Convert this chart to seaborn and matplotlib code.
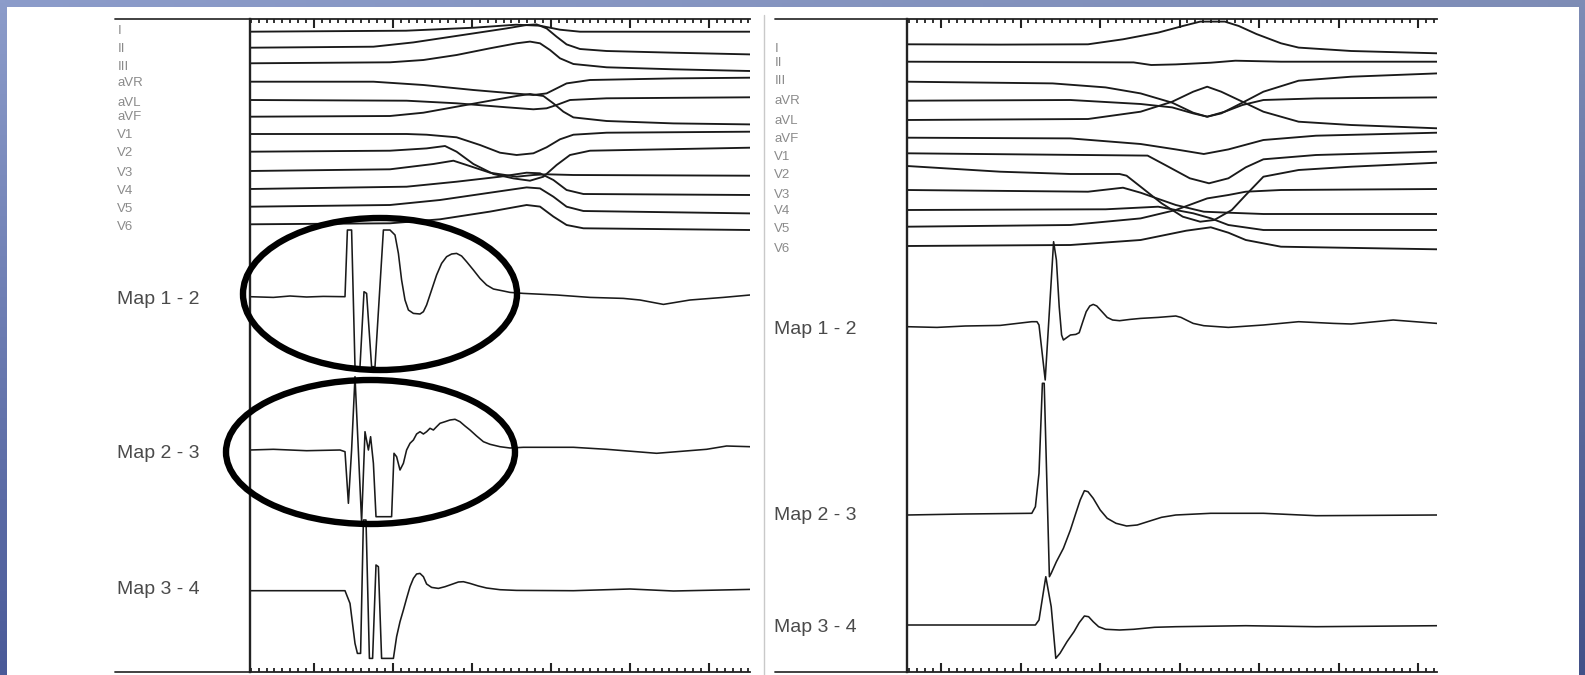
import numpy as np
import pandas as pd
import matplotlib
matplotlib.use("Agg")
import matplotlib.pyplot as plt
from matplotlib.patches import Ellipse, Rectangle
from matplotlib.lines import Line2D
import seaborn as sns

W, H, DPI = 1585, 675, 100

CHANNELS = ["I", "II", "III", "aVR", "aVL", "aVF", "V1", "V2", "V3", "V4", "V5", "V6",
            "Map 1 - 2", "Map 2 - 3", "Map 3 - 4"]

# ---------------- left recording (time in ms, amplitude in display units) ----------------
left_depth = [12.7, 28.7, 44.3, 62.7, 81, 97.7, 115, 132.7, 152, 170, 187.7, 205.3, 277.7, 431, 571.7]
left_label_depth = [11, 29, 46, 63, 82, 97, 115, 133, 153, 170, 188, 206, 279, 432, 569]

L_I_t = [0, 78, 112, 133, 145, 155, 165, 250]
L_I_a = [0, 1, 4, 7, 6, 2, 0, 0]
L_II_t = [0, 61.7, 81.7, 95, 111.7, 128.3, 138.3, 143.3, 148.3, 153.3, 158.3, 165, 178.3, 211.7, 250]
L_II_a = [0, 1, 5.3, 9.3, 14.3, 19.3, 22.7, 23.3, 19.3, 11, 3.3, -1.3, -3.3, -5, -6.7]
L_III_t = [0, 70, 86.7, 103.3, 120, 133.3, 140, 145, 150, 155, 161.7, 178.3, 211.7, 250]
L_III_a = [0, 1, 3.3, 8.3, 15, 20, 21.7, 20, 13.3, 5, -0.7, -4, -6, -7.7]
L_aVR_t = [0, 61.7, 86.7, 111.7, 131.7, 141.7, 148.3, 153.3, 158.3, 170, 211.7, 250]
L_aVR_a = [0, 0, -3.3, -8.3, -11.7, -13.3, -11.7, -6.7, -1.7, 1.7, 3.3, 4]
L_aVL_t = [0, 78.3, 103.3, 128.3, 141.7, 148.3, 153.3, 160, 178.3, 250]
L_aVL_a = [0, -0.7, -3.3, -7.3, -9.3, -8.3, -5, 0, 1.7, 2.7]
L_aVF_t = [0, 70, 86.7, 103.3, 120, 133.3, 140, 146.7, 151.7, 156.7, 161.7, 178.3, 211.7, 250]
L_aVF_a = [0, 0.7, 4, 10, 16, 20.7, 22.7, 20.7, 13.3, 5, -0.7, -4.3, -6.7, -7.7]
L_V1_t = [0, 78.3, 88.3, 103.3, 115, 125, 133.3, 141.7, 148.3, 155, 161.7, 178.3, 250]
L_V1_a = [0, 0, -0.7, -3.3, -11, -18.7, -21, -19.3, -13.3, -5.3, -0.7, 1.3, 2.3]
L_V2_t = [0, 70, 88.3, 97.5, 103.3, 111.7, 121.7, 131.7, 140, 146.7, 153.3, 160, 170, 250]
L_V2_a = [0, 1, 3.3, 5.7, 0, -12.3, -22.3, -26.7, -29, -25, -13.3, -3.3, 1, 4]
L_V3_t = [0, 70, 91.7, 101.7, 108.3, 120, 133.3, 141.7, 148.3, 161.7, 250]
L_V3_a = [0, 1.7, 7, 10.3, 6, -1.7, -5.7, -4, -3.3, -4, -4.7]
L_V4_t = [0, 78.3, 103.3, 125, 138.3, 145, 151.7, 158.3, 166.7, 250]
L_V4_a = [0, 2.3, 7.3, 12.3, 16.3, 15.7, 9, -1, -5, -6]
L_V5_t = [0, 70, 95, 120, 138.3, 145, 151.7, 158.3, 166.7, 250]
L_V5_a = [0, 1.7, 6.7, 14, 19.3, 18.3, 10, 0, -4.3, -6.7]
L_V6_t = [0, 70, 95, 120, 138.3, 145, 151.7, 158.3, 166.7, 250]
L_V6_a = [0, 1, 5, 12.7, 19.3, 17.7, 7.7, -0.7, -4, -5.7]

L_M12_t = [0, 11.7, 20, 28.3, 36.7, 47.5, 48.7, 50.8, 52.5, 55, 57, 58.3, 60.8, 62.5, 66.7,
           70, 72.5, 74.2, 75.8, 77.5, 79.2, 81.7, 85, 86.7, 88.3, 90.8, 93.3, 95.8, 98.3, 100.8,
           103.3, 105.8, 108.3, 111.7, 115, 118.3, 121.7, 126.7, 130, 136.7, 153.3, 170, 186.7,
           195, 206.7, 220, 236.7, 250]
L_M12_a = [0, -0.7, 0.7, -0.3, 0.3, 0, 66.7, 66.7, -70, -70, 5, 3.3, -70, -70, 66.7,
           66.7, 61.7, 43.3, 16.7, -3.3, -13.3, -16.7, -17.3, -15, -8.3, 6.7, 21.7, 33.3, 40, 42.7,
           43.3, 40.7, 35, 26.7, 18.3, 11.7, 7.7, 5.7, 4.3, 3.3, 1.7, -0.7, -1.7,
           -3.3, -7.7, -3.3, -0.7, 1.7]
L_M23_t = [0, 11.7, 28.3, 45, 47.5, 49.2, 50.8, 52.5, 55.8, 57.5, 59.2, 60.3, 61.7, 63, 70.8,
           72, 73.3, 75, 76.7, 78.3, 80, 81.7, 83.3, 85, 86.7, 88.3, 90, 91.7, 93.3, 95,
           97.5, 100, 102.5, 105, 107.5, 110, 113.3, 116.7, 120, 125, 130, 136.7, 161.7, 178.3,
           203.3, 228.3, 238.3, 250]
L_M23_a = [0, 0.7, -0.7, 0, -1.7, -53.3, 0, 73.3, -71.7, 18.3, 0, 13.3, -13.3, -66.7, -66.7,
           -3.3, -6.7, -20, -13.3, 0, 6.7, 10, 16, 18.3, 16, 18.3, 21.7, 20, 23.3, 26.7,
           28.3, 30, 30.7, 28.3, 24, 20, 14, 8.3, 5.7, 3.3, 2, 2.7, 2.7, 0.7,
           -3.3, 0.7, 4, 3.3]
L_M34_t = [0, 47.5, 50, 52.5, 53.7, 55.3, 56.7, 58, 59.7, 61.3, 63, 64.2, 65.8, 71.7, 73.3,
           75, 76.7, 78.3, 80, 81.7, 83.3, 85, 86.7, 88.3, 90.8, 94.2, 97.5, 100.8, 104.2, 106.7,
           110, 114.2, 118.3, 125, 133.3, 161.7, 190, 211.7, 250]
L_M34_a = [0, 0, -12.7, -52.7, -62.7, -62.7, 70.7, 70.7, -67.7, -67.7, 25.7, 24, -67.7, -67.7, -46,
           -31, -19.3, -7.7, 4, 12.3, 16.7, 17.3, 14, 6.7, 3.3, 2.3, 4, 6.3, 8.7, 9,
           7.3, 4.7, 2.7, 1, 0.3, 0, 1.7, -0.3, 1.3]

# ---------------- right recording ----------------
right_depth = [25.3, 42.7, 62.7, 81.7, 101, 118.7, 134.3, 147, 171, 191, 207.7, 227, 307.7, 496, 606]
right_label_depth = [28, 43, 61, 81, 101, 118, 136, 154, 174, 191, 209, 228, 308, 494, 606]

R_I_t = [0, 46.6, 90.5, 108, 125.6, 137.9, 146.6, 158.9, 165.9, 174.7, 187, 195.8, 222.1, 265]
R_I_a = [0, -0.3, 0, 5, 11.7, 18.3, 22.7, 22.7, 18.3, 10.3, 1, -3.3, -6.7, -9]
R_II_t = [0, 113.3, 122.1, 134.4, 151.9, 164.2, 187, 265]
R_II_a = [0, -0.7, -3.3, -2.7, -1, 1, 0, 0]
R_III_t = [0, 72.8, 99.3, 116.8, 132.6, 143.1, 150.1, 157.1, 167.7, 178.2, 195.8, 222.1, 265]
R_III_a = [0, -1.7, -5.7, -11.7, -21, -31, -35, -31.7, -21, -10, 1, 5, 8.3]
R_aVR_t = [0, 81.7, 116.8, 132.6, 143.1, 150.1, 158.9, 167.7, 178.2, 204.5, 265]
R_aVR_a = [0, 0.7, -3.3, -6.7, -12.7, -16, -11, -4.3, 0.7, 2.3, 3.3]
R_aVL_t = [0, 90.5, 116.8, 132.6, 143.1, 150.1, 157.1, 167.7, 178.2, 195.8, 222.1, 265]
R_aVL_a = [0, 1, 8.3, 18.3, 28.3, 33.3, 28.3, 18.3, 8.3, -1.7, -5, -8.3]
R_aVF_t = [0, 81.7, 116.8, 134.4, 148.4, 160.7, 178.2, 204.5, 265]
R_aVF_a = [0, -0.7, -6.3, -11.7, -16.3, -11.7, -2.3, 2, 5]
R_V1_t = [0, 120.3, 129.1, 141.4, 151, 160.7, 169.4, 178.2, 204.5, 265]
R_V1_a = [0, -2.3, -11.7, -25, -30, -25, -14, -6, -1.7, 1.7]
R_V2_t = [0, 46.6, 81.7, 106.3, 109.8, 116.8, 127.3, 137.9, 146.6, 153.6, 162.4, 169.4, 178.2, 195.8, 222.1, 265]
R_V2_a = [0, -5.7, -8, -8, -9.7, -20.7, -37.3, -50.7, -55.7, -54, -44, -29, -10.7, -4, -0.7, 3.3]
R_V3_t = [0, 90.5, 108, 116.8, 134.4, 148.4, 160.7, 178.2, 265]
R_V3_a = [0, -1.7, 2.3, -2.7, -15, -21.7, -22.7, -24, -24]
R_V4_t = [0, 99.3, 125.6, 143.1, 151.9, 160.7, 178.2, 265]
R_V4_a = [0, 0.7, 3.3, -3.3, -8.3, -15, -20, -20]
R_V5_t = [0, 81.7, 116.8, 134.4, 150.1, 160.7, 169.4, 187, 265]
R_V5_a = [0, 1.7, 8.3, 16.7, 28.3, 31.7, 35, 36.7, 37.7]
R_V6_t = [0, 81.7, 116.8, 139.6, 151.9, 160.7, 169.4, 187, 265]
R_V6_a = [0, 1, 6, 15.3, 18.7, 13.3, 6, -0.7, -3.3]

R_M12_t = [0, 15, 29.1, 46.6, 62.4, 65, 66, 69.1, 73.3, 74.7, 76.1, 77.3, 78.2, 80, 81.7,
           84.4, 86.1, 87.9, 89.6, 91.4, 93.1, 94.9, 97.5, 100.1, 102.8, 106.3, 111.5, 116.8, 125.6,
           134.4, 137, 139.6, 143.1, 148.4, 160.7, 178.2, 195.8, 213.3, 222.1, 243.1, 265]
R_M12_a = [0, -0.7, 0.7, 1.3, 5, 5, 1.7, -53.3, 85, 66.7, 20, -8.3, -13.3, -10.7, -8.3,
           -7.7, -6, 5, 15, 20.7, 22.3, 20.7, 15, 9.3, 6.7, 6, 7.3, 8.3, 9.3,
           10.7, 9.3, 6.7, 3.3, 1, -0.7, 1.7, 5, 3.3, 2.7, 6.7, 3.3]
R_M23_t = [0, 29.1, 62.4, 64.2, 66, 67.7, 68.6, 71.2, 72.1, 74.7, 78.2, 81.7, 84.4, 86.6, 88.7,
           90.5, 93.1, 96.6, 100.1, 104.5, 109.8, 115.1, 120.3, 127.3, 134.4, 151.9, 178.2, 204.5, 265]
R_M23_a = [0, 1, 1.7, 8.3, 41.7, 131.7, 131.7, -61.7, -58.3, -46.7, -33.3, -15, 1.7, 15, 24.3,
           23.3, 16.7, 5, -3.3, -8.3, -11, -10, -6.7, -2.3, 0, 1.7, 1.7, -0.7, 0]
R_M34_t = [0, 64.2, 66, 69.4, 72.1, 74.4, 76.5, 80, 83.5, 86.1, 88.7, 90.8, 93.1, 95.8, 99.3,
           106.3, 113.3, 123.8, 134.4, 169.4, 204.5, 265]
R_M34_a = [0, 0, 5, 48.3, 18.3, -33.3, -28.3, -16.7, -6.7, 2.3, 9, 8.3, 3.3, -1.7, -4.3,
           -5, -4.3, -2.3, -1.7, -0.7, -1.7, -0.7]

LEFT_T = [L_I_t, L_II_t, L_III_t, L_aVR_t, L_aVL_t, L_aVF_t, L_V1_t, L_V2_t, L_V3_t, L_V4_t,
          L_V5_t, L_V6_t, L_M12_t, L_M23_t, L_M34_t]
LEFT_A = [L_I_a, L_II_a, L_III_a, L_aVR_a, L_aVL_a, L_aVF_a, L_V1_a, L_V2_a, L_V3_a, L_V4_a,
          L_V5_a, L_V6_a, L_M12_a, L_M23_a, L_M34_a]
RIGHT_T = [R_I_t, R_II_t, R_III_t, R_aVR_t, R_aVL_t, R_aVF_t, R_V1_t, R_V2_t, R_V3_t, R_V4_t,
           R_V5_t, R_V6_t, R_M12_t, R_M23_t, R_M34_t]
RIGHT_A = [R_I_a, R_II_a, R_III_a, R_aVR_a, R_aVL_a, R_aVF_a, R_V1_a, R_V2_a, R_V3_a, R_V4_a,
           R_V5_a, R_V6_a, R_M12_a, R_M23_a, R_M34_a]


def long_frame(depths, times, amps):
    rows = []
    for name, d, ts, am in zip(CHANNELS, depths, times, amps):
        for k, (t, a) in enumerate(zip(ts, am)):
            rows.append((name, k, t, -d + a))
    return pd.DataFrame(rows, columns=["channel", "k", "t", "y"])


sns.set_style("white")
plt.rcParams["font.family"] = ["Liberation Sans", "DejaVu Sans"]

fig = plt.figure(figsize=(W / DPI, H / DPI), dpi=DPI)

# slide backdrop: blue gradient with a white sheet on top
bg = fig.add_axes([0, 0, 1, 1], zorder=-10)
yy, xx = np.mgrid[0:1:200j, 0:1:300j]
top = np.array([140, 156, 202]) / 255
bot = np.array([74, 90, 152]) / 255
grad = top[None, None, :] * (1 - yy[..., None]) + bot[None, None, :] * yy[..., None]
grad = grad * (1 - 0.10 * xx[..., None])
bg.imshow(np.clip(grad, 0, 1), extent=[0, 1, 0, 1], aspect="auto", origin="upper")
bg.set_axis_off()
fig.patches.append(Rectangle((7 / W, 0), (1579 - 7) / W, (H - 7) / H, transform=fig.transFigure,
                             facecolor="white", edgecolor="none", zorder=-5))
fig.lines.append(Line2D([764 / W, 764 / W], [0, (H - 15) / H], transform=fig.transFigure,
                        color="#c9c9c9", lw=1.0, zorder=-4))

TRACE = "#1a1a1a"


def panel(rect, depths, label_depths, times, amps, xmax, major0, major_step, ext):
    ax = fig.add_axes(rect)
    ax.patch.set_alpha(0)
    df = long_frame(depths, times, amps)
    leads = df[~df["channel"].str.startswith("Map")]
    maps = df[df["channel"].str.startswith("Map")]
    sns.lineplot(data=leads, x="t", y="y", units="channel", estimator=None, sort=False,
                 color=TRACE, lw=1.35, ax=ax, legend=False)
    sns.lineplot(data=maps, x="t", y="y", units="channel", estimator=None, sort=False,
                 color=TRACE, lw=1.15, ax=ax, legend=False)
    ax.set_xlim(0, xmax)
    ax.set_ylim(-653, 0)
    ax.set_xlabel("")
    ax.set_ylabel("")

    # ruler along top and bottom
    majors = np.arange(major0, xmax, major_step)
    minors = np.arange(major0 - major_step, xmax, major_step / 10)
    minors = minors[(minors >= 0) & (minors <= xmax)]
    ax.set_xticks(majors)
    ax.set_xticks(minors, minor=True)
    ax.tick_params(axis="x", which="both", direction="in", top=True, bottom=True,
                   labelbottom=False, labeltop=False, color="#222222")
    ax.tick_params(axis="x", which="major", length=6.5, width=1.5)
    ax.tick_params(axis="x", which="minor", length=3.2, width=1.3)

    # channel names on the left
    ax.set_yticks([-d for d in label_depths])
    ax.set_yticklabels(CHANNELS)
    ax.tick_params(axis="y", length=0, pad=95.5)
    for lab in ax.get_yticklabels():
        lab.set_horizontalalignment("left")
        if lab.get_text().startswith("Map"):
            lab.set_fontsize(14)
            lab.set_color("#4a4a4a")
        else:
            lab.set_fontsize(9.5)
            lab.set_color("#8a8a8a")

    ax.spines["right"].set_visible(False)
    ax.spines["left"].set_linewidth(1.7)
    ax.spines["top"].set_linewidth(1.3)
    ax.spines["bottom"].set_linewidth(1.3)
    for s in ("left", "top", "bottom"):
        ax.spines[s].set_color("#222222")
    for yv in (0, 1):
        ax.plot([ext, 0], [yv, yv], transform=ax.transAxes, clip_on=False,
                color="#333333", lw=1.3)
    return ax


axL = panel([250 / W, 3 / H, 500 / W, 653 / H], left_depth, left_label_depth, LEFT_T, LEFT_A,
            250, 32, 39.5, -0.27)
axR = panel([907 / W, 3 / H, 530 / W, 653 / H], right_depth, right_label_depth, RIGHT_T, RIGHT_A,
            265, 17, 39.75, -0.249)

# highlighted fractionated electrograms
for cx, cy, w, h in [(65, -275, 137, 152), (60.25, -433, 144.5, 144)]:
    axL.add_patch(Ellipse((cx, cy), w, h, fill=False, edgecolor="black", lw=4.6,
                          clip_on=False, zorder=5))

fig.savefig("out.png", dpi=DPI)
